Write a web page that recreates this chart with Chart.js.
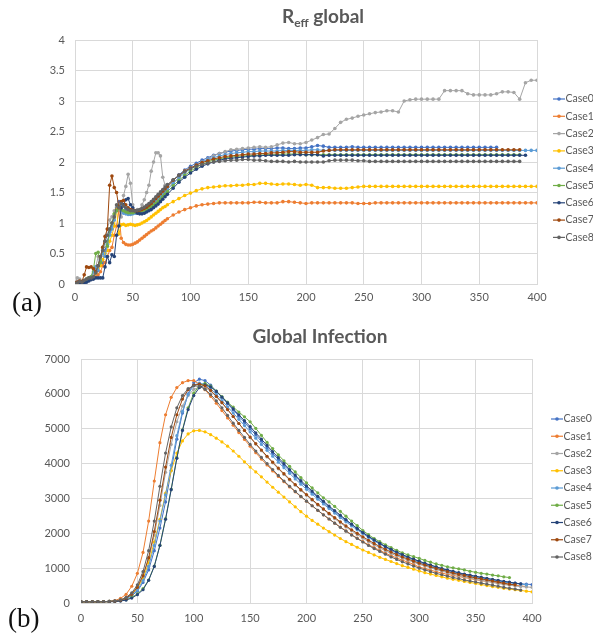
<!DOCTYPE html>
<html>
<head>
<meta charset="utf-8">
<script src="https://cdn.jsdelivr.net/npm/chart.js@4.4.1/dist/chart.umd.min.js"></script>
<style>
  body { margin: 0; background: #fff; width: 593px; height: 636px; position: relative; overflow: hidden; font-family: Lato, sans-serif; }
  canvas { position: absolute; left: 0; }
  #reffChart { top: 0; }
  #infChart { top: 312px; }
  .title { position: absolute; width: 400px; text-align: center; font-weight: bold; font-size: 19px; line-height: 23px; color: #595959; }
  .title sub { font-size: 12px; vertical-align: -4px; line-height: 0; }
  .tag { position: absolute; font-family: "Liberation Serif", serif; font-size: 27px; line-height: 30px; color: #111; }
</style>
</head>
<body>
<canvas id="reffChart" width="593" height="312"></canvas>
<canvas id="infChart" width="593" height="324"></canvas>
<div class="title" style="left:123px; top:4px;">R<sub>eff</sub> global</div>
<div class="title" style="left:120px; top:324px;">Global Infection</div>
<div class="tag" style="left:12px; top:287px;">(a)</div>
<div class="tag" style="left:8px; top:603px;">(b)</div>
<script>
// series names and colours
const caseNames = ['Case0', 'Case1', 'Case2', 'Case3', 'Case4', 'Case5', 'Case6', 'Case7', 'Case8'];
const caseColors = ['#4472C4', '#ED7D31', '#A5A5A5', '#FFC000', '#5B9BD5', '#70AD47', '#264478', '#9E480E', '#636363'];

// (a) R_eff global
const reffDays = [0,2,4,6,8,10,12,14,16,18, 20,22,24,26,28,30,32,34,36,38, 40,42,44,46,48,50,52,54,56,58, 60,62,64,66,68,70,72,74,76,78,
  80,85,90,95,100,105,110,115,120,125, 130,135,140,145,150,155,160,165,170,175, 180,185,190,195,200,205,210,215,220,225,
  230,235,240,245,250,255,260,265,270,275, 280,285,290,295,300,305,310,315,320,325, 330,335,340,345,350,355,360,365,370,375, 380,385,390,395,400];

const reffCase0 = [0.02,0.03,0.02,0.04,0.05,0.06,0.08,0.1,0.15,0.22, 0.3,0.4,0.35,0.55,0.7,0.85,0.95,1.1,1.25,1.35,
  1.3,1.28,1.22,1.2,1.18,1.18,1.19,1.2,1.21,1.23, 1.25,1.27,1.3,1.33,1.37,1.41,1.45,1.49,1.53,1.57,
  1.61,1.7,1.79,1.87,1.93,1.98,2.03,2.07,2.11,2.14, 2.16,2.18,2.19,2.2,2.21,2.21,2.22,2.22,2.22,2.23,
  2.23,2.22,2.22,2.23,2.23,2.25,2.27,2.26,2.24,2.24, 2.24,2.24,2.25,2.24,2.24,2.24,2.24,2.24,2.24,2.24,
  2.24,2.24,2.24,2.24,2.24,2.24,2.24,2.24,2.24,2.24, 2.24,2.24,2.24,2.24,2.24,2.24,2.24,2.24,null,null, null,null,null,null,null];
const reffCase1 = [0.02,0.02,0.01,0.02,0.03,0.05,0.06,0.08,0.1,0.12, 0.15,0.2,0.3,0.35,0.45,0.55,0.6,0.8,0.95,1.2,
  0.75,0.68,0.65,0.64,0.64,0.65,0.67,0.69,0.72,0.75, 0.78,0.81,0.84,0.87,0.89,0.92,0.95,0.98,1.01,1.04,
  1.07,1.13,1.18,1.22,1.25,1.28,1.3,1.31,1.32,1.33, 1.33,1.33,1.33,1.33,1.33,1.34,1.34,1.33,1.33,1.33,
  1.35,1.35,1.34,1.33,1.32,1.33,1.33,1.33,1.33,1.33, 1.33,1.33,1.33,1.32,1.32,1.32,1.33,1.33,1.33,1.33,
  1.33,1.33,1.33,1.33,1.33,1.33,1.33,1.33,1.33,1.33, 1.33,1.33,1.33,1.33,1.33,1.33,1.33,1.33,1.33,1.33, 1.33,1.33,1.33,1.33,1.33];
const reffCase2 = [0.02,0.1,0.08,0.05,0.06,0.08,0.1,0.12,0.15,0.28, 0.45,0.35,0.55,0.7,0.9,1.05,1.1,1.2,1.28,1.3,
  1.1,1.45,1.6,1.8,1.65,1.3,1.2,1.22,1.2,1.3, 1.38,1.5,1.62,1.85,2.0,2.15,2.15,2.1,1.75,1.62,
  1.58,1.66,1.75,1.85,1.9,1.95,2.0,2.05,2.1,2.14, 2.17,2.2,2.21,2.22,2.23,2.24,2.25,2.24,2.25,2.28,
  2.31,2.32,2.3,2.3,2.32,2.36,2.4,2.45,2.46,2.55, 2.65,2.7,2.72,2.75,2.77,2.79,2.81,2.82,2.84,2.84,
  2.82,3.0,3.02,3.03,3.03,3.03,3.03,3.03,3.17,3.17, 3.17,3.17,3.12,3.1,3.1,3.1,3.1,3.12,3.15,3.15, 3.14,3.03,3.3,3.34,3.34];
const reffCase3 = [0.01,0.02,0.03,0.02,0.04,0.05,0.07,0.1,0.12,0.18, 0.25,0.3,0.4,0.5,0.55,0.7,0.8,0.95,1.22,0.82,
  0.97,0.98,0.96,0.97,0.98,0.97,0.96,0.97,0.98,1.0, 1.02,1.04,1.07,1.1,1.13,1.16,1.19,1.22,1.25,1.27,
  1.3,1.35,1.4,1.45,1.49,1.53,1.56,1.58,1.59,1.6, 1.61,1.61,1.62,1.62,1.63,1.63,1.65,1.65,1.64,1.63,
  1.64,1.64,1.63,1.62,1.63,1.62,1.58,1.58,1.58,1.57, 1.57,1.57,1.58,1.59,1.6,1.6,1.6,1.6,1.6,1.6,
  1.6,1.6,1.6,1.6,1.6,1.6,1.6,1.6,1.6,1.6, 1.6,1.6,1.6,1.6,1.6,1.6,1.6,1.6,1.6,1.6, 1.6,1.6,1.6,1.6,1.6];
const reffCase4 = [0.01,0.02,0.03,0.03,0.05,0.07,0.09,0.12,0.2,0.28, 0.22,0.38,0.5,0.45,0.65,0.8,0.9,1.05,1.2,1.28,
  1.2,1.16,1.15,1.14,1.14,1.15,1.16,1.17,1.18,1.2, 1.22,1.24,1.26,1.29,1.32,1.35,1.39,1.43,1.47,1.51,
  1.55,1.65,1.74,1.82,1.89,1.95,2.0,2.04,2.07,2.1, 2.12,2.14,2.15,2.16,2.17,2.17,2.18,2.18,2.18,2.18,
  2.19,2.19,2.19,2.19,2.19,2.2,2.2,2.19,2.19,2.19, 2.19,2.19,2.19,2.19,2.19,2.19,2.19,2.19,2.19,2.19,
  2.19,2.19,2.19,2.19,2.19,2.19,2.19,2.19,2.19,2.19, 2.19,2.19,2.19,2.19,2.19,2.19,2.19,2.19,2.19,2.19, 2.19,2.19,2.19,2.19,2.19];
const reffCase5 = [0,0.01,0.02,0.03,0.05,0.08,0.1,0.12,0.25,0.5, 0.52,0.35,0.6,0.7,0.62,0.9,1.0,1.15,1.2,1.25,
  1.22,1.2,1.18,1.17,1.17,1.17,1.18,1.18,1.19,1.2, 1.21,1.22,1.24,1.26,1.29,1.32,1.35,1.39,1.43,1.47,
  1.51,1.61,1.7,1.78,1.85,1.91,1.96,2.0,2.03,2.05, 2.07,2.08,2.09,2.1,2.1,2.11,2.11,2.12,2.12,2.12,
  2.13,2.13,2.13,2.13,2.12,2.12,2.12,2.12,2.12,2.12, 2.12,2.12,2.12,2.12,2.12,2.12,2.12,2.12,2.12,2.12,
  2.12,2.12,2.12,2.12,2.12,2.12,2.12,2.12,2.12,2.12, 2.12,2.12,2.12,2.12,2.12,2.12,2.12,2.12,2.12,2.12, 2.12,2.12,null,null,null];
const reffCase6 = [0,0,0.01,0.01,0.02,0.03,0.05,0.07,0.08,0.1, 0.1,0.1,0.1,0.28,0.45,0.35,0.48,0.45,0.8,0.95,
  1.25,1.3,1.38,1.4,1.3,1.25,1.2,1.16,1.15,1.15, 1.16,1.18,1.2,1.22,1.25,1.28,1.31,1.35,1.39,1.43,
  1.47,1.57,1.67,1.75,1.82,1.88,1.93,1.97,2.0,2.03, 2.05,2.06,2.07,2.08,2.09,2.1,2.1,2.11,2.11,2.11,
  2.11,2.11,2.12,2.12,2.12,2.12,2.12,2.1,2.11,2.11, 2.11,2.11,2.11,2.11,2.11,2.11,2.11,2.11,2.11,2.11,
  2.11,2.11,2.11,2.11,2.11,2.11,2.11,2.11,2.11,2.11, 2.11,2.11,2.11,2.11,2.11,2.11,2.11,2.11,2.11,2.11, 2.11,2.11,2.11,null,null];
const reffCase7 = [0.02,0.03,0.05,0.04,0.15,0.28,0.27,0.28,0.25,0.2, 0.3,0.45,0.6,0.78,0.9,1.62,1.77,1.58,1.5,1.25,
  1.35,1.37,1.3,1.25,1.22,1.21,1.2,1.2,1.21,1.22, 1.24,1.26,1.29,1.32,1.36,1.4,1.44,1.48,1.52,1.56,
  1.6,1.7,1.78,1.85,1.9,1.95,1.99,2.02,2.05,2.07, 2.09,2.1,2.11,2.12,2.13,2.13,2.14,2.14,2.15,2.15,
  2.16,2.17,2.17,2.16,2.16,2.16,2.16,2.18,2.19,2.2, 2.2,2.2,2.2,2.2,2.2,2.2,2.2,2.2,2.2,2.2,
  2.2,2.2,2.2,2.2,2.2,2.2,2.2,2.2,2.2,2.2, 2.2,2.2,2.2,2.2,2.2,2.2,2.2,2.2,2.2,2.2, 2.2,2.2,null,null,null];
const reffCase8 = [0.01,0.02,0.04,0.03,0.06,0.08,0.1,0.1,0.12,0.18, 0.3,0.45,0.55,0.7,0.8,0.9,1.0,1.1,1.3,1.25,
  1.32,1.28,1.25,1.22,1.2,1.2,1.2,1.21,1.22,1.24, 1.26,1.29,1.32,1.35,1.39,1.43,1.47,1.51,1.55,1.59,
  1.63,1.71,1.78,1.84,1.89,1.93,1.96,1.98,2.0,2.01, 2.02,2.03,2.03,2.04,2.04,2.03,2.03,2.02,2.01,2.01,
  2.01,2.0,2.01,2.0,2.0,2.0,2.0,2.0,2.02,2.03, 2.03,2.03,2.03,2.02,2.02,2.01,2.01,2.01,2.01,2.01,
  2.01,2.01,2.01,2.01,2.01,2.01,2.01,2.01,2.01,2.01, 2.01,2.01,2.01,2.01,2.01,2.01,2.01,2.01,2.01,2.01, 2.01,2.01,null,null,null];

// (b) Global infection
const infDays = [0,5,10,15,20,25,30,35,40,45, 50,55,60,65,70,75,80,85,90,95, 100,105,110,115,120,125,130,135,140,145,
  150,155,160,165,170,175,180,185,190,195, 200,205,210,215,220,225,230,235,240,245, 250,255,260,265,270,275,280,285,290,295,
  300,305,310,315,320,325,330,335,340,345, 350,355,360,365,370,375,380,385,390,395, 400];

const infCase0 = [40,40,40,40,40,45,55,75,120,210, 340,590,950,1500,2150,2900,3800,4700,5450,6000,
  6320,6420,6380,6250,6080,5900,5720,5540,5360,5180, 5000,4820,4640,4460,4290,4120,3950,3790,3630,3470,
  3320,3170,3030,2890,2750,2620,2490,2370,2250,2130, 2020,1910,1810,1710,1620,1530,1450,1380,1310,1250,
  1190,1130,1080,1030,980,940,900,860,820,790, 750,720,690,660,640,610,590,570,550,540, 530];
const infCase1 = [30,30,30,30,35,45,70,130,250,480, 850,1450,2350,3500,4600,5400,5900,6180,6320,6380,
  6380,6280,6120,5930,5730,5520,5310,5100,4890,4690, 4500,4310,4130,3960,3790,3630,3480,3330,3190,3050,
  2920,2790,2660,2530,2410,2290,2180,2070,1960,1860, 1760,1670,1590,1510,1430,1360,1290,1230,1170,1110,
  1030,990,940,900,860,820,790,760,730,700, 670,640,620,600,570,550,530,510,490,470, null];
const infCase2 = [40,40,40,40,40,45,55,85,150,270, 480,800,1250,1950,2800,3750,4550,5200,5650,5950,
  6130,6190,6180,6080,5920,5740,5550,5350,5150,4950, 4750,4560,4370,4190,4020,3850,3690,3530,3380,3230,
  3090,2950,2810,2680,2550,2420,2300,2180,2070,1960, 1860,1760,1670,1580,1500,1420,1350,1290,1230,1170,
  1110,1060,1010,960,915,870,830,790,750,720, 680,650,620,590,560,530,510,490,470,460, 450];
const infCase3 = [30,30,30,30,30,40,50,80,140,250, 420,700,1150,1750,2400,3150,3800,4300,4650,4850,
  4940,4950,4910,4830,4730,4620,4500,4360,4210,4050, 3900,3760,3620,3470,3320,3180,3040,2900,2760,2620,
  2490,2370,2260,2150,2050,1950,1850,1760,1680,1600, 1520,1450,1380,1310,1250,1190,1130,1070,1020,970,
  920,870,830,790,750,710,680,650,620,590, 560,530,500,470,450,420,400,380,360,340, 320];
const infCase4 = [40,40,40,40,40,45,55,80,130,220, 370,640,1050,1650,2350,3100,3950,4800,5500,5980,
  6250,6310,6270,6150,5990,5810,5630,5450,5270,5090, 4910,4730,4550,4380,4210,4040,3880,3720,3560,3410,
  3260,3120,2980,2840,2710,2580,2450,2330,2210,2100, 1990,1880,1780,1690,1600,1510,1430,1360,1290,1230,
  1170,1110,1060,1010,960,920,880,840,800,770, 740,710,680,650,620,600,580,560,540,520, null];
const infCase5 = [40,40,40,40,40,45,50,65,95,160, 260,410,660,1060,1660,2420,3270,4170,4970,5600,
  6020,6240,6300,6220,6080,5920,5760,5620,5480,5340, 5200,5010,4810,4610,4430,4250,4080,3920,3760,3600,
  3450,3300,3160,3020,2900,2770,2630,2490,2350,2220, 2080,1960,1850,1760,1670,1590,1510,1440,1380,1330,
  1280,1220,1170,1120,1080,1040,1010,980,950,910, 880,850,830,800,780,750,730,null,null,null, null];
const infCase6 = [30,30,30,30,30,35,40,55,85,140, 240,380,650,1050,1650,2400,3250,4150,4950,5550,
  5950,6180,6260,6200,6070,5910,5740,5570,5400,5230, 5060,4880,4700,4520,4340,4170,4000,3830,3670,3510,
  3360,3210,3060,2920,2780,2650,2520,2390,2260,2140, 2020,1910,1810,1710,1620,1540,1460,1390,1320,1260,
  1200,1140,1090,1040,990,950,910,870,830,800, 770,740,710,680,650,620,600,570,550,null, null];
const infCase7 = [40,40,40,40,40,45,55,80,140,250, 450,780,1300,2050,2950,3900,4750,5400,5850,6120,
  6250,6280,6230,6100,5930,5750,5550,5350,5150,4950, 4760,4570,4390,4210,4040,3870,3710,3550,3400,3250,
  3110,2970,2830,2700,2570,2450,2330,2210,2100,2000, 1900,1800,1710,1620,1540,1460,1390,1320,1260,1200,
  1140,1090,1040,990,950,900,860,820,790,750, 720,690,660,630,600,570,540,520,null,null, null];
const infCase8 = [40,40,40,40,40,45,60,90,160,290, 520,900,1500,2350,3350,4300,5050,5600,5950,6150,
  6230,6220,6130,5980,5800,5600,5380,5160,4950,4750, 4550,4360,4180,4000,3830,3660,3500,3350,3200,3060,
  2920,2790,2660,2530,2410,2290,2170,2060,1950,1850, 1750,1650,1560,1480,1400,1320,1250,1180,1120,1060,
  1000,950,900,850,810,770,730,700,660,630, 600,570,540,510,480,450,420,400,370,null, null];

const reffSeries = [reffCase0, reffCase1, reffCase2, reffCase3, reffCase4, reffCase5, reffCase6, reffCase7, reffCase8];
const infSeries = [infCase0, infCase1, infCase2, infCase3, infCase4, infCase5, infCase6, infCase7, infCase8];

const textGray = '#595959';
const gridGray = '#D9D9D9';
const tickFont = { family: 'Lato', size: 11 };

// legend drawn at the right, line with marker like the spreadsheet one
const sideLegend = {
  id: 'sideLegend',
  afterDraw(chart, args, opts) {
    const ctx = chart.ctx;
    ctx.save();
    ctx.font = '10.5px Lato';
    ctx.textBaseline = 'middle';
    chart.data.datasets.forEach((ds, i) => {
      const y = opts.y + i * opts.step;
      ctx.strokeStyle = ds.borderColor;
      ctx.lineWidth = 1.2;
      ctx.beginPath();
      ctx.moveTo(opts.x, y);
      ctx.lineTo(opts.x + 12, y);
      ctx.stroke();
      ctx.fillStyle = ds.borderColor;
      ctx.beginPath();
      ctx.arc(opts.x + 6, y, 1.8, 0, Math.PI * 2);
      ctx.fill();
      ctx.fillStyle = textGray;
      ctx.fillText(ds.label, opts.x + 12.5, y);
    });
    ctx.restore();
  }
};

function makeSets(days, series, radius) {
  return series.map((vals, i) => ({
    label: caseNames[i],
    data: days.map((d, j) => ({ x: d, y: vals[j] })),
    borderColor: caseColors[i],
    backgroundColor: caseColors[i],
    borderWidth: 1,
    pointRadius: radius,
    pointBorderWidth: 0,
    order: series.length - i
  }));
}

function makeChart(id, days, series, o) {
  new Chart(document.getElementById(id), {
    type: 'line',
    data: { datasets: makeSets(days, series, o.radius) },
    options: {
      responsive: false,
      animation: false,
      layout: { padding: { left: 0, right: o.padRight, top: o.padTop, bottom: 0 } },
      plugins: {
        legend: { display: false },
        tooltip: { enabled: false },
        sideLegend: o.legend
      },
      scales: {
        x: {
          type: 'linear', min: 0, max: 400,
          ticks: { stepSize: 50, padding: o.xPad, color: textGray, font: tickFont, maxRotation: 0 },
          grid: { color: gridGray, drawTicks: false },
          border: { color: gridGray },
          afterFit: s => { s.height = o.xHeight; }
        },
        y: {
          min: 0, max: o.yMax,
          ticks: { stepSize: o.yStep, padding: o.yPad, color: textGray, font: tickFont, callback: v => v },
          grid: { color: gridGray, drawTicks: false },
          border: { color: gridGray },
          afterFit: s => { s.width = o.yWidth; }
        }
      }
    },
    plugins: [sideLegend]
  });
}

makeChart('reffChart', reffDays, reffSeries, {
  padRight: 56, padTop: 40, xHeight: 28, yWidth: 75, xPad: 7, yPad: 10, radius: 1.8,
  yMax: 4, yStep: 0.5, legend: { x: 553, y: 99, step: 17.3 }
});
makeChart('infChart', infDays, infSeries, {
  padRight: 61, padTop: 47, xHeight: 33, yWidth: 81, xPad: 9, yPad: 11, radius: 1.6,
  yMax: 7000, yStep: 1000, legend: { x: 551, y: 107, step: 17.25 }
});
</script>
</body>
</html>
